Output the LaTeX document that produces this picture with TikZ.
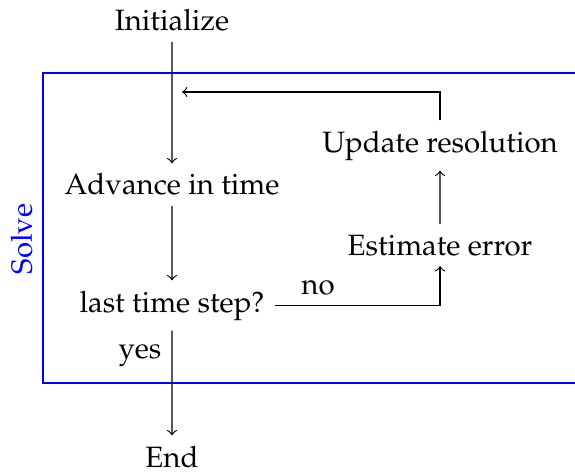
\documentclass[tikz,border=0pt]{standalone}
\usepackage[T1]{fontenc}
\usepackage{mathpazo}
\usepackage{tikz}
\usetikzlibrary{arrows}
\usetikzlibrary{positioning}

\tikzset{
	stage/.style = {anchor = base},
	flow/.style = {->}
}

\begin{document}
\begin{tikzpicture}[scale = 0.598]
			%\draw[help lines] (0,0) grid (11,9);
			\useasboundingbox (0, 0) rectangle (11.5, 9.48);
			\clip (0, 0) rectangle (11.5, 9.48);
			
			% solve loop
			\draw[blue] (0.86, 8.02) rectangle (12, 1.82);
			\node[blue, rotate = 90, anchor = south] (solve) at (0.86, 4.70) {Solve};
			
			\node[stage] (init) at (3.44, 8.86) {Initialize};
			\node[stage] (adv) at (3.44, 5.58) {Advance in time};
			\node[stage] (last) at (3.44, 3.24) {last time step?};
			\node[stage] (end) at (3.44, 0.14) {End};
			\node[stage] (est) at (8.80, 4.38) {Estimate error};
			\node[stage] (upd) at (8.80, 6.44) {Update resolution};
			\node[stage] (yes) at (2.80, 2.32) {yes};
			\node[stage] (no) at (6.36, 3.60) {no};
			\coordinate (back) at (3.64, 7.64);
			
			\draw[flow] (init) -- (adv);
			\draw[flow] (adv) -- (last);
			\draw[flow] (last) -- (end);
			\draw[flow] (last.east) -| (est.south);
			\draw[flow] (est) -- (upd);
			\draw[flow] (upd.north) |- (back);
		\end{tikzpicture}
\end{document}
